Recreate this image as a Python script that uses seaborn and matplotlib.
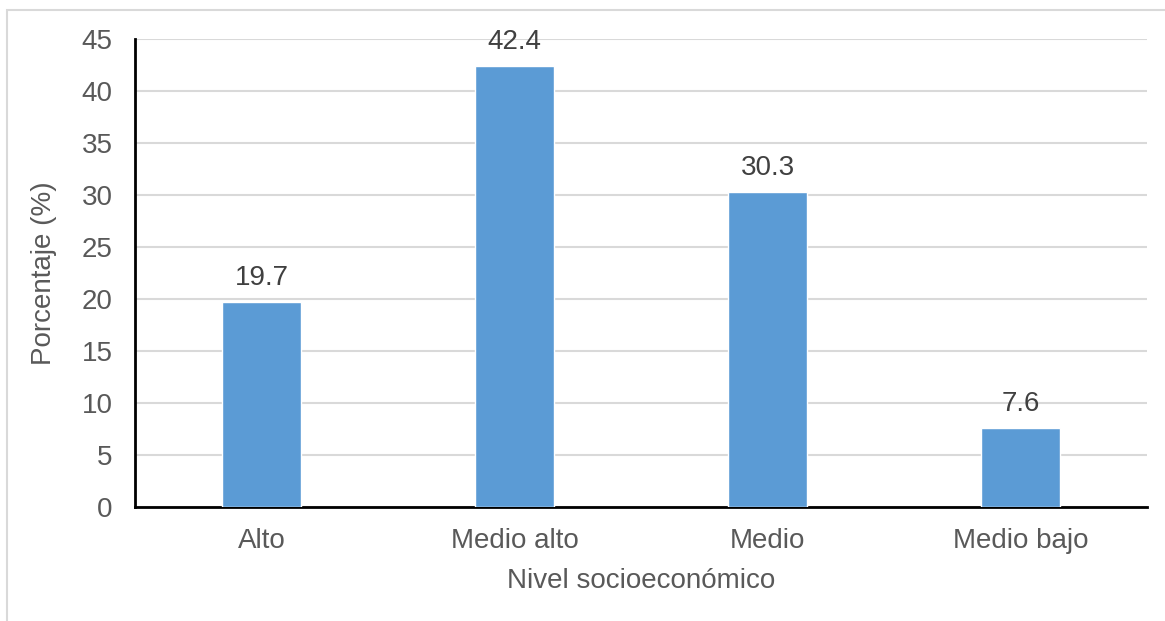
import matplotlib
matplotlib.use("Agg")
import matplotlib.pyplot as plt
import seaborn as sns
import pandas as pd

# === Datos ===
niveles = ["Alto", "Medio alto", "Medio", "Medio bajo"]
porcentajes = [19.7, 42.4, 30.3, 7.6]
y_ticks = [0, 5, 10, 15, 20, 25, 30, 35, 40, 45]

df = pd.DataFrame({"Nivel": niveles, "Porcentaje": porcentajes})

sns.set_style("white")
plt.rcParams['font.family'] = ['Liberation Sans', 'DejaVu Sans']
gris = "#595959"

fig = plt.figure(figsize=(11.65, 6.21), dpi=100)
W, H = 1165, 621
ax = fig.add_axes([135 / W, 1 - 507 / H, (1147 - 135) / W, (507 - 39) / H])

sns.barplot(data=df, x="Nivel", y="Porcentaje", color="#5B9BD5", width=0.31,
            saturation=1, ax=ax, zorder=3)

for cont in ax.containers:
    ax.bar_label(cont, labels=[f"{v:.1f}" for v in porcentajes], padding=8,
                 fontsize=20, color="#404040")

ax.set_ylim(0, 45)
ax.set_yticks(y_ticks)
ax.grid(axis="y", color="#D9D9D9", linewidth=1.5, zorder=0)
ax.tick_params(axis="y", length=0, labelsize=20, labelcolor=gris, pad=16)
ax.tick_params(axis="x", length=0, labelsize=20, labelcolor=gris, pad=15)
for s in ["top", "right"]:
    ax.spines[s].set_visible(False)
for s in ["left", "bottom"]:
    ax.spines[s].set_color("black")
    ax.spines[s].set_linewidth(2)
ax.set_xlabel("Nivel socioeconómico", fontsize=20, color=gris, labelpad=10)
ax.set_ylabel("Porcentaje (%)", fontsize=20, color=gris, labelpad=18)

# Borde del gráfico
fig.patches.append(plt.Rectangle((7 / W, -0.1), 1.2, 1 - 10 / H + 0.1,
                                 transform=fig.transFigure, fill=False,
                                 edgecolor="#D9D9D9", linewidth=1.5))

plt.savefig("out.png", dpi=100)
